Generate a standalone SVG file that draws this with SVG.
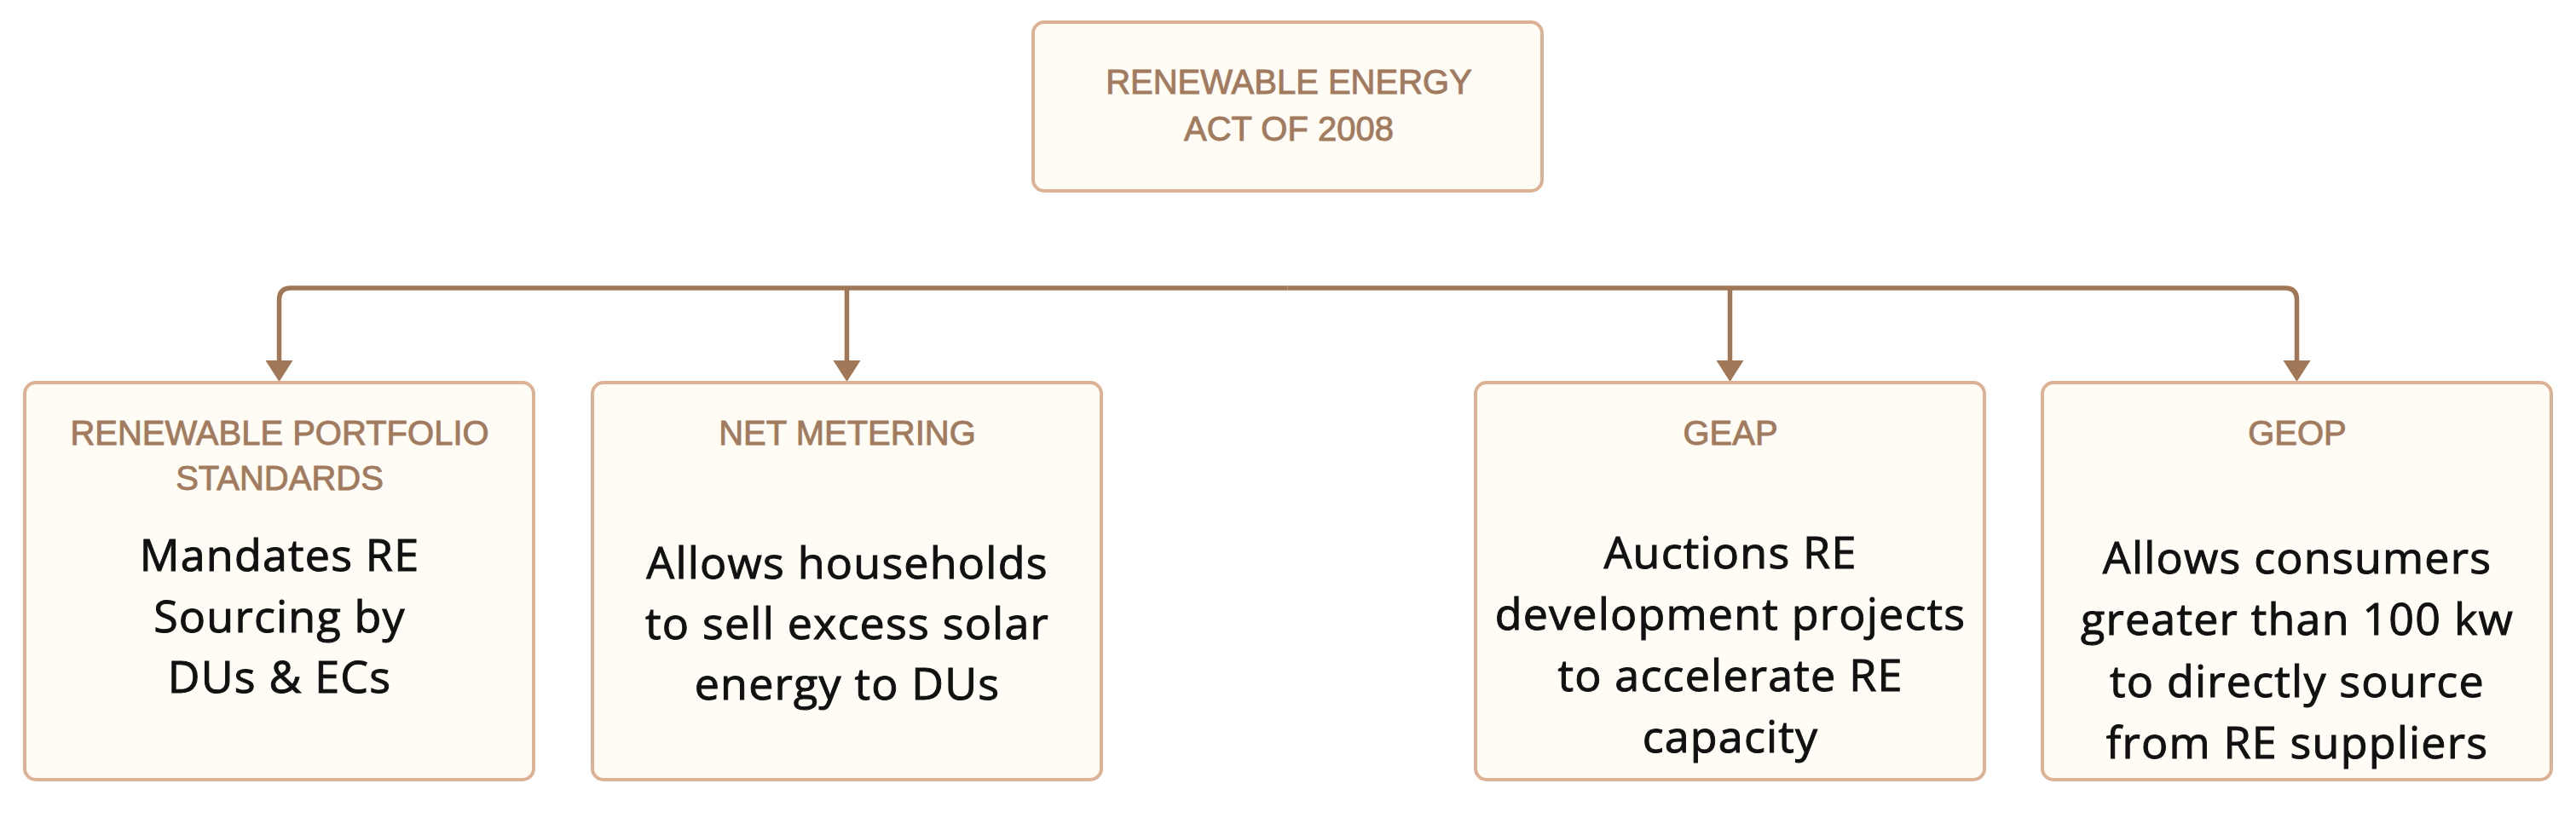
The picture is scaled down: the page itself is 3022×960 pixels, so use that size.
<svg xmlns="http://www.w3.org/2000/svg" width="3022" height="960" viewBox="0 0 3022 960">
  <style>
    .box { fill: #fefcf5; stroke: #ddb194; stroke-width: 4; }
    .head { font-family: "Liberation Sans", Arial, sans-serif; font-size: 40px; fill: #a27b5f; stroke: #a27b5f; stroke-width: 0.9; text-anchor: middle; }
    .body { font-family: "Open Sans", "Noto Sans", sans-serif; font-size: 52px; font-weight: 400; fill: #111111; stroke: #111111; stroke-width: 1; text-anchor: middle; letter-spacing: 1.2px; }
    .conn { fill: none; stroke: #a07858; stroke-width: 5.5; stroke-linecap: butt; stroke-linejoin: round; }
  </style>
  <defs>
    <marker id="arrow" markerUnits="userSpaceOnUse" markerWidth="28" markerHeight="34" refX="0" refY="16" orient="auto" viewBox="0 0 28 32">
      <path d="M0,0 L25,16 L0,32 z" fill="#a07858"/>
    </marker>
  </defs>
  <rect width="3022" height="960" fill="#ffffff"/>

  <g id="connectors">
    <path class="conn" d="M1510.5 338 H341.5 Q327.5 338 327.5 352 V423" marker-end="url(#arrow)"/>
    <path class="conn" d="M1510.5 338 H2680.5 Q2694.5 338 2694.5 352 V423" marker-end="url(#arrow)"/>
    <path class="conn" d="M993.5 338 V423" marker-end="url(#arrow)"/>
    <path class="conn" d="M2029.5 338 V423" marker-end="url(#arrow)"/>
  </g>

  <g id="node-act">
    <rect class="box" x="1212" y="26" width="597" height="198" rx="13"/>
    <text class="head" x="1512" y="110">RENEWABLE ENERGY</text>
    <text class="head" x="1512" y="165">ACT OF 2008</text>
  </g>

  <g id="node-rps">
    <rect class="box" x="29" y="449" width="597" height="466" rx="13"/>
    <text class="head" x="328" y="522">RENEWABLE PORTFOLIO</text>
    <text class="head" x="328" y="575">STANDARDS</text>
    <text class="body" x="328" y="670">Mandates RE</text>
    <text class="body" x="328" y="742">Sourcing by</text>
    <text class="body" x="328" y="813">DUs &amp; ECs</text>
  </g>

  <g id="node-netmetering">
    <rect class="box" x="695" y="449" width="597" height="466" rx="13"/>
    <text class="head" x="994" y="522">NET METERING</text>
    <text class="body" x="994" y="679">Allows households</text>
    <text class="body" x="994" y="750">to sell excess solar</text>
    <text class="body" x="994" y="821">energy to DUs</text>
  </g>

  <g id="node-geap">
    <rect class="box" x="1731" y="449" width="597" height="466" rx="13"/>
    <text class="head" x="2030" y="522">GEAP</text>
    <text class="body" x="2030" y="667">Auctions RE</text>
    <text class="body" x="2030" y="739">development projects</text>
    <text class="body" x="2030" y="811">to accelerate RE</text>
    <text class="body" x="2030" y="883">capacity</text>
  </g>

  <g id="node-geop">
    <rect class="box" x="2396" y="449" width="597" height="466" rx="13"/>
    <text class="head" x="2695" y="522">GEOP</text>
    <text class="body" x="2695" y="673">Allows consumers</text>
    <text class="body" x="2695" y="745">greater than 100 kw</text>
    <text class="body" x="2695" y="818">to directly source</text>
    <text class="body" x="2695" y="890">from RE suppliers</text>
  </g>
</svg>
